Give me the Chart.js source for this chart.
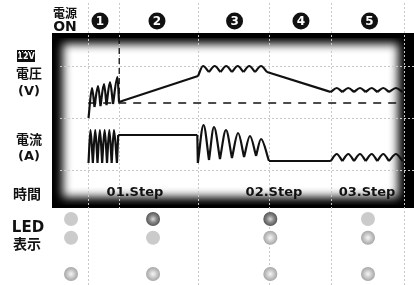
<!DOCTYPE html>
<html>
<head>
<meta charset="utf-8">
<script src="https://cdn.jsdelivr.net/npm/chart.js@4.4.1/dist/chart.umd.min.js"></script>
<style>
  html, body { margin: 0; padding: 0; background: #fff; overflow: hidden; }
  canvas { display: block; }
</style>
</head>
<body>
<canvas id="chart" width="414" height="285"></canvas>
<script>
// time axis: 0 = power on, one unit ~ 10px; level axis: arbitrary units
const phaseBorders = [0, 3, 10.58, 17.5, 23.45, 30.5];
const levelGrid = [14.2, 9.0, 3.8];
const refLevel = 10.5; // dashed 12V line

const stepNumbers = ['1', '2', '3', '4', '5'];
const stepNumberT = [1.14, 6.65, 14.15, 20.57, 27.2];
const stepLabels = ['01.Step', '02.Step', '03.Step'];
const stepLabelT = [4.52, 17.96, 26.96];

// voltage trace, each piece is drawn on its own (cusps stay sharp)
const voltagePieces = [
    [[0.03, 9.0], [0.37, 12.0], [0.61, 10.1]],
    [[0.61, 10.1], [0.95, 12.2], [1.19, 10.2]],
    [[1.19, 10.2], [1.53, 12.4], [1.77, 10.3]],
    [[1.77, 10.3], [2.11, 12.6], [2.40, 10.4]],
    [[2.40, 10.4], [2.83, 13.1], [2.98, 10.6]],
    [[2.98, 10.6], [10.62, 13.2]],
    [[10.62, 13.2], [11.10, 14.2], [11.67, 13.6]],
    [[11.67, 13.6], [12.23, 14.2], [12.79, 13.6]],
    [[12.79, 13.6], [13.34, 14.2], [13.90, 13.6]],
    [[13.90, 13.6], [14.45, 14.2], [15.01, 13.6]],
    [[15.01, 13.6], [15.57, 14.2], [16.13, 13.6]],
    [[16.13, 13.6], [16.71, 14.2], [17.29, 13.6]],
    [[17.29, 13.6], [23.45, 11.6]],
    [[23.45, 11.6], [24.03, 12.0], [24.57, 11.6]],
    [[24.57, 11.6], [25.15, 12.0], [25.70, 11.6]],
    [[25.70, 11.6], [26.28, 12.0], [26.83, 11.6]],
    [[26.83, 11.6], [27.41, 12.0], [27.95, 11.6]],
    [[27.95, 11.6], [28.53, 12.0], [29.08, 11.6]],
    [[29.08, 11.6], [29.76, 12.0], [30.39, 11.6]]
];

// current trace
const currentPieces = [
    [[0.03, 4.5], [0.22, 7.8], [0.45, 4.5]],
    [[0.45, 4.5], [0.68, 7.8], [0.90, 4.5]],
    [[0.90, 4.5], [1.13, 7.8], [1.35, 4.5]],
    [[1.35, 4.5], [1.59, 7.8], [1.82, 4.5]],
    [[1.82, 4.5], [2.04, 7.8], [2.27, 4.5]],
    [[2.27, 4.5], [2.49, 7.8], [2.78, 4.5]],
    [[2.78, 4.5], [2.90, 7.3]],
    [[2.90, 7.3], [10.55, 7.3]],
    [[10.55, 7.3], [10.60, 4.5]],
    [[10.60, 4.5], [11.15, 8.3], [11.68, 4.8]],
    [[11.68, 4.8], [12.16, 8.1], [12.74, 4.9]],
    [[12.74, 4.9], [13.32, 7.8], [13.90, 5.0]],
    [[13.90, 5.0], [14.49, 7.5], [15.07, 5.1]],
    [[15.07, 5.1], [15.64, 7.2], [16.23, 5.2]],
    [[16.23, 5.2], [16.71, 6.9], [17.48, 4.7]],
    [[17.48, 4.7], [23.45, 4.7]],
    [[23.45, 4.7], [24.03, 5.4], [24.57, 4.7]],
    [[24.57, 4.7], [25.15, 5.4], [25.70, 4.7]],
    [[25.70, 4.7], [26.28, 5.4], [26.83, 4.7]],
    [[26.83, 4.7], [27.41, 5.4], [27.95, 4.7]],
    [[27.95, 4.7], [28.53, 5.4], [29.08, 4.7]],
    [[29.08, 4.7], [29.76, 5.4], [30.39, 4.7]]
];

// LED table: columns (time), rows (level), state 0 off / 1 lit / 2 glow
const ledColumnsT = [-1.66, 6.27, 17.61, 27.05];
const ledRowsV = [-1.1, -2.97, -6.6];
const ledStates = [[0, 0, 2], [1, 0, 2], [1, 2, 2], [0, 2, 2]];

function flatten(pieces) {
    const out = [];
    pieces.forEach(p => {
        p.forEach(([t, v]) => out.push({ x: t, y: v }));
        out.push({ x: p[p.length - 1][0], y: null });
    });
    return out;
}

const JP = '"Noto Sans CJK JP", sans-serif';
const LAT = '"DejaVu Sans", sans-serif';

const framePlugin = {
    id: 'frame',
    beforeDraw(chart) {
        const { ctx, chartArea: a } = chart;
        ctx.save();
        ctx.fillStyle = '#fff';
        ctx.fillRect(0, 0, chart.width, chart.height);
        ctx.fillStyle = '#000';
        ctx.fillRect(a.left, a.top, a.right - a.left, a.bottom - a.top);
        ctx.beginPath();
        ctx.rect(a.left, a.top + 5, a.right - a.left - 10, a.bottom - a.top - 8);
        ctx.clip();
        ctx.filter = 'blur(5px)';
        ctx.fillStyle = '#fff';
        ctx.fillRect(a.left + 11, a.top + 11, a.right - a.left - 27, a.bottom - a.top - 22);
        ctx.restore();
    },
    beforeDatasetsDraw(chart) {
        const { ctx, chartArea: a, scales: { x, y } } = chart;
        ctx.save();
        ctx.strokeStyle = '#c8c8c8';
        ctx.lineWidth = 1;
        ctx.setLineDash([2, 2]);
        phaseBorders.forEach((t, i) => {
            const px = Math.round(x.getPixelForValue(t)) + 0.5;
            ctx.beginPath();
            ctx.moveTo(px, 3);
            ctx.lineTo(px, i === 1 ? a.bottom : chart.height);
            ctx.stroke();
        });
        levelGrid.forEach(v => {
            const py = Math.round(y.getPixelForValue(v)) + 0.5;
            ctx.beginPath();
            ctx.moveTo(60, py);
            ctx.lineTo(a.right, py);
            ctx.stroke();
        });
        // dashed references
        ctx.strokeStyle = '#111';
        ctx.lineWidth = 1.3;
        ctx.setLineDash([8, 7]);
        const ry = y.getPixelForValue(refLevel);
        ctx.beginPath();
        ctx.moveTo(x.getPixelForValue(phaseBorders[0]), ry);
        ctx.lineTo(x.getPixelForValue(phaseBorders[5]), ry);
        ctx.stroke();
        ctx.setLineDash([6, 4]);
        const vx = x.getPixelForValue(phaseBorders[1]);
        ctx.beginPath();
        ctx.moveTo(vx, a.top + 5);
        ctx.lineTo(vx, ry);
        ctx.stroke();
        ctx.restore();
    },
    afterDraw(chart) {
        const { ctx, scales: { x, y } } = chart;
        ctx.save();
        ctx.fillStyle = '#111';
        ctx.textAlign = 'center';
        ctx.textBaseline = 'middle';

        // left side labels
        ctx.font = 'bold 12px ' + JP;
        ctx.fillText('電源', 65, 13);
        ctx.font = 'bold 14px ' + LAT;
        ctx.fillText('ON', 65, 27);

        ctx.font = 'bold 13px ' + JP;
        ctx.fillText('電圧', 29, 73);
        ctx.fillText('電流', 29, 139);
        ctx.font = 'bold 13px ' + LAT;
        ctx.fillText('(V)', 29, 92);
        ctx.fillText('(A)', 29, 157);
        ctx.font = 'bold 14px ' + JP;
        ctx.fillText('時間', 27, 194);
        ctx.fillText('表示', 27, 244);
        ctx.font = 'bold 15px ' + LAT;
        ctx.fillText('LED', 28, 228);

        // 12V badge
        ctx.fillRect(17, 50, 18, 12);
        ctx.fillStyle = '#fff';
        ctx.font = 'bold 8px ' + LAT;
        ctx.fillText('12V', 26, 57);
        for (let i = 19; i < 34; i += 3) ctx.fillRect(i, 51, 1, 1);

        // step numbers
        stepNumbers.forEach((n, i) => {
            const cx = x.getPixelForValue(stepNumberT[i]);
            ctx.fillStyle = '#111';
            ctx.beginPath();
            ctx.arc(cx, 21, 8.5, 0, Math.PI * 2);
            ctx.fill();
            ctx.fillStyle = '#fff';
            ctx.font = 'bold 12px ' + LAT;
            ctx.fillText(n, cx, 21.5);
        });

        // step labels
        ctx.fillStyle = '#111';
        ctx.font = 'bold 13px ' + LAT;
        stepLabels.forEach((s, i) => {
            ctx.fillText(s, x.getPixelForValue(stepLabelT[i]), y.getPixelForValue(1.5));
        });

        // LEDs
        ledColumnsT.forEach((t, c) => {
            const cx = x.getPixelForValue(t);
            ledRowsV.forEach((v, r) => {
                const cy = y.getPixelForValue(v);
                const st = ledStates[c][r];
                let fill;
                if (st === 0) {
                    fill = '#cbcbcb';
                } else {
                    const g = ctx.createRadialGradient(cx, cy, 0, cx, cy, 7);
                    if (st === 1) {
                        g.addColorStop(0, '#d8d8d8');
                        g.addColorStop(0.5, '#8a8a8a');
                        g.addColorStop(1, '#555');
                    } else {
                        g.addColorStop(0, '#f6f6f6');
                        g.addColorStop(0.6, '#c4c4c4');
                        g.addColorStop(1, '#a6a6a6');
                    }
                    fill = g;
                }
                ctx.fillStyle = fill;
                ctx.beginPath();
                ctx.arc(cx, cy, 7, 0, Math.PI * 2);
                ctx.fill();
            });
        });
        ctx.restore();
    }
};

const traceStyle = {
    borderColor: '#111',
    borderWidth: 2.2,
    pointRadius: 0,
    fill: false,
    spanGaps: false,
    cubicInterpolationMode: 'monotone'
};

new Chart(document.getElementById('chart').getContext('2d'), {
    type: 'line',
    data: {
        datasets: [
            Object.assign({ label: '電圧', data: flatten(voltagePieces) }, traceStyle),
            Object.assign({ label: '電流', data: flatten(currentPieces) }, traceStyle)
        ]
    },
    options: {
        responsive: false,
        animation: false,
        devicePixelRatio: 1,
        layout: { padding: { left: 52, top: 33, right: 0, bottom: 77 } },
        plugins: { legend: { display: false }, tooltip: { enabled: false } },
        scales: {
            x: { type: 'linear', min: -3.5, max: 31.5, display: false },
            y: { type: 'linear', min: 0, max: 17.5, display: false }
        }
    },
    plugins: [framePlugin]
});
</script>
</body>
</html>
